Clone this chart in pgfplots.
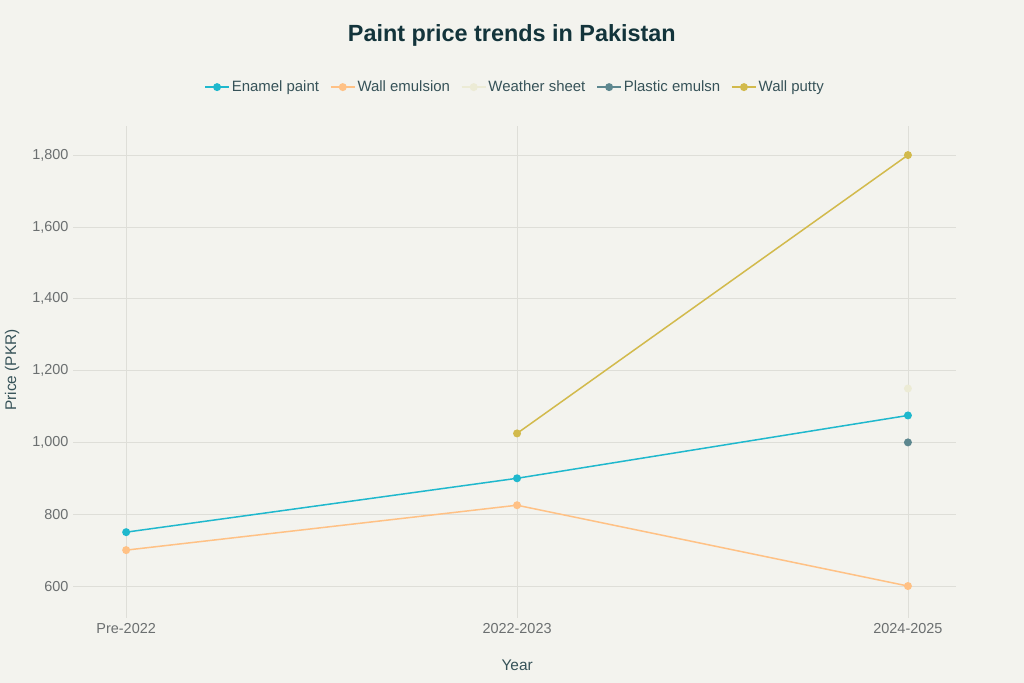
\documentclass[border=0pt]{standalone}
\usepackage{pgfplots}
\pgfplotsset{compat=1.18}
\usepackage{fontspec}
\setmainfont{Liberation Sans}

\definecolor{bg}{HTML}{F3F3EE}
\definecolor{titlec}{HTML}{13343B}
\definecolor{tickc}{HTML}{6B6F70}
\definecolor{gridc}{HTML}{DEDED8}
\definecolor{enamel}{HTML}{1FB8CD}
\definecolor{wallem}{HTML}{FFC185}
\definecolor{weather}{HTML}{ECEBD5}
\definecolor{plastic}{HTML}{5D878F}
\definecolor{putty}{HTML}{D2BA4C}

\begin{document}
\begin{tikzpicture}[x=1bp,y=1bp]
\fill[bg] (0,0) rectangle (1024,683);
\path[use as bounding box] (0,0) rectangle (1024,683);
\begin{axis}[
    at={(73bp,65bp)}, anchor=south west,
    width=883bp, height=492bp, scale only axis,
    xmin=-0.136, xmax=2.123,
    ymin=511, ymax=1881,
    xtick={0,1,2},
    xticklabels={Pre-2022,2022-2023,2024-2025},
    ytick={600,800,1000,1200,1400,1600,1800},
    /pgf/number format/.cd, 1000 sep={,}, assume math mode=true,
    /pgfplots/.cd,
    axis line style={draw=none},
    tick style={draw=none},
    grid=major,
    major grid style={gridc, line width=0.8bp},
    ticklabel style={font=\fontsize{14.5}{16}\selectfont, text=tickc},
    yticklabel style={xshift=-1bp},
    xticklabel style={yshift=-2bp},
    title={Paint price trends in Pakistan},
    title style={font=\fontsize{23.5}{28}\selectfont\bfseries, text=titlec, at={(axis description cs:0.497,1.171)}, anchor=center},
    xlabel={Year},
    ylabel={Price (PKR)},
    label style={font=\fontsize{15.5}{18}\selectfont, text=titlec!85},
    xlabel style={at={(axis description cs:0.503,-0.0955)}, anchor=center},
    ylabel style={at={(axis description cs:-0.069,0.504)}, anchor=center, rotate=0},
    legend columns=5,
    legend style={at={(0.5006,1.079)}, anchor=center, draw=none, fill=none,
        font=\fontsize{15}{17}\selectfont, text=titlec!85,
        /tikz/every even column/.append style={column sep=9bp}},
    legend cell align=left,
    legend image code/.code={
        \draw[mark repeat=2,mark phase=2,#1] plot coordinates {(0bp,0bp) (12bp,0bp) (24bp,0bp)};
    },
    every axis plot/.append style={line width=1.5bp, mark=*, mark size=3.2bp},
]
\addplot[color=enamel, mark options={fill=enamel}] coordinates {(0,750) (1,900) (2,1075)};
\addlegendentry{Enamel paint}
\addplot[color=wallem, mark options={fill=wallem}] coordinates {(0,700) (1,825) (2,600)};
\addlegendentry{Wall emulsion}
\addplot[color=weather, mark options={fill=weather}] coordinates {(2,1150)};
\addlegendentry{Weather sheet}
\addplot[color=plastic, mark options={fill=plastic}] coordinates {(2,1000)};
\addlegendentry{Plastic emulsn}
\addplot[color=putty, mark options={fill=putty}] coordinates {(1,1025) (2,1800)};
\addlegendentry{Wall putty}
\end{axis}
\end{tikzpicture}
\end{document}
